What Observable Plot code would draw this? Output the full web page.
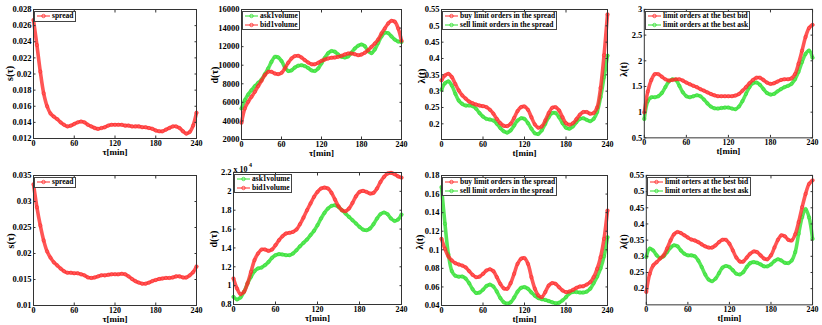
<!DOCTYPE html>
<html><head><meta charset="utf-8">
<script src="https://cdn.jsdelivr.net/npm/d3@7"></script>
<script src="https://cdn.jsdelivr.net/npm/@observablehq/plot@0.6"></script>
<style>
body{margin:0;background:#fff;}
#wrap{position:relative;width:822px;height:325px;overflow:hidden;background:#fff;}
.pnl{position:absolute;}
.legend{position:absolute;background:#fff;border:1px solid #444;font:bold 7.5px "Liberation Serif",serif;color:#000;padding:0 1px 0 1px;box-sizing:border-box;white-space:nowrap;}
.legend .row{height:8.5px;line-height:8.5px;display:flex;align-items:center;}
.legend svg{display:block;margin-right:1px;}
</style></head>
<body><div id="wrap"></div>
<script>
// ---------------- data ----------------
const times = [0,5,10,15,20,25,30,35,40,45,50,55,60,65,70,75,80,85,90,95,100,105,110,115,120,125,130,135,140,145,150,155,160,165,170,175,180,185,190,195,200,205,210,215,220,225,230,235,240];
const xTicks = [0,60,120,180,240];

// top row
const spreadTop = [0.0267,0.0236,0.0203,0.0176,0.0160,0.0151,0.0147,0.0144,0.0140,0.0137,0.0135,0.0136,0.0138,0.0140,0.0141,0.0140,0.0137,0.0135,0.0133,0.0132,0.0133,0.0134,0.0136,0.0137,0.0137,0.0137,0.0137,0.0136,0.0136,0.0135,0.0135,0.0135,0.0134,0.0134,0.0133,0.0132,0.0130,0.0129,0.0129,0.0131,0.0133,0.0135,0.0135,0.0133,0.0129,0.0126,0.0128,0.0136,0.0152];
const ask1Top = [5340,6240,6850,7310,7745,8100,8460,9040,9650,10370,10900,10850,10450,9800,9380,9450,9750,9950,10000,9900,9700,9450,9380,9650,10200,10800,11300,11520,11450,11150,10900,10830,10950,11350,11800,12100,12230,12050,11500,11300,11700,12400,13100,13500,13450,13100,12750,12550,12500];
const bid1Top = [3800,5340,6060,6600,7130,7745,8320,8930,9290,9290,9110,9040,9180,9650,10260,10730,10980,11010,10830,10550,10290,10110,10110,10260,10470,10620,10730,10800,10830,10900,11010,11160,11260,11260,11190,11080,11160,11340,11620,11980,12340,12770,13420,13960,14500,14780,14680,13960,12630];
const buySpreadTop = [0.333,0.348,0.353,0.343,0.322,0.302,0.287,0.277,0.268,0.263,0.259,0.256,0.254,0.251,0.243,0.231,0.215,0.202,0.194,0.193,0.200,0.218,0.239,0.251,0.253,0.243,0.220,0.198,0.188,0.192,0.210,0.233,0.249,0.251,0.241,0.220,0.202,0.197,0.202,0.214,0.228,0.236,0.236,0.231,0.233,0.250,0.310,0.410,0.535];
const sellSpreadTop = [0.304,0.324,0.330,0.317,0.292,0.271,0.261,0.256,0.256,0.254,0.246,0.233,0.222,0.215,0.213,0.210,0.200,0.187,0.177,0.173,0.180,0.195,0.210,0.217,0.215,0.202,0.185,0.171,0.169,0.180,0.200,0.220,0.233,0.233,0.220,0.202,0.188,0.185,0.192,0.205,0.215,0.217,0.212,0.208,0.215,0.236,0.282,0.343,0.409];
const bestBidTop = [0.994,1.405,1.627,1.740,1.740,1.690,1.640,1.614,1.627,1.640,1.640,1.614,1.576,1.544,1.513,1.487,1.449,1.418,1.386,1.354,1.329,1.310,1.310,1.310,1.310,1.310,1.323,1.354,1.418,1.487,1.563,1.627,1.671,1.671,1.627,1.576,1.551,1.563,1.595,1.627,1.640,1.640,1.658,1.740,1.943,2.196,2.462,2.639,2.700];
const bestAskTop = [0.867,1.215,1.290,1.290,1.310,1.373,1.487,1.595,1.640,1.627,1.513,1.386,1.310,1.290,1.310,1.329,1.310,1.247,1.171,1.108,1.076,1.070,1.082,1.089,1.089,1.070,1.057,1.108,1.215,1.354,1.487,1.563,1.576,1.532,1.449,1.373,1.342,1.354,1.405,1.449,1.487,1.513,1.551,1.640,1.785,1.975,2.133,2.200,2.060];

// bottom row
const spreadBot = [0.0333,0.0289,0.0254,0.0225,0.0204,0.0192,0.0183,0.0177,0.0171,0.0166,0.0163,0.0163,0.0162,0.0162,0.0160,0.0158,0.0154,0.0153,0.0154,0.0156,0.0158,0.0158,0.0159,0.0160,0.0160,0.0160,0.0161,0.0160,0.0156,0.0151,0.0147,0.0144,0.0142,0.0142,0.0144,0.0147,0.0149,0.0151,0.0152,0.0153,0.0153,0.0154,0.0156,0.0156,0.0154,0.0154,0.0158,0.0164,0.0175];
const ask1Bot = [8810,8530,8740,9340,10230,10930,11530,11820,11920,12170,12520,12950,13230,13340,13300,13230,13230,13410,13760,14180,14540,14890,15350,15810,16410,17120,17720,18180,18460,18530,18350,18000,17650,17290,16940,16590,16230,15950,15880,16060,16520,17120,17580,17750,17580,17120,16870,17010,17540];
const bid1Bot = [10760,9700,9100,9340,10230,11460,12700,13410,13830,13830,13690,13830,14290,14820,15240,15530,15600,15700,15950,16520,17220,18000,18710,19410,19940,20300,20400,20300,19840,19130,18420,18000,17890,18180,18780,19480,19940,20050,19940,19770,19840,20300,21000,21530,21890,21960,21820,21600,21460];
const buySpreadBot = [0.1118,0.1010,0.0928,0.0885,0.0856,0.0842,0.0830,0.0810,0.0770,0.0730,0.0705,0.0712,0.0741,0.0777,0.0791,0.0770,0.0705,0.0633,0.0585,0.0580,0.0641,0.0741,0.0849,0.0903,0.0910,0.0849,0.0705,0.0580,0.0508,0.0490,0.0544,0.0615,0.0641,0.0633,0.0597,0.0562,0.0544,0.0551,0.0569,0.0590,0.0605,0.0608,0.0626,0.0651,0.0705,0.0795,0.0921,0.1118,0.1423];
const sellSpreadBot = [0.1675,0.1280,0.0950,0.0770,0.0720,0.0710,0.0712,0.0690,0.0640,0.0575,0.0535,0.0540,0.0570,0.0610,0.0625,0.0605,0.0550,0.0480,0.0435,0.0420,0.0435,0.0485,0.0550,0.0590,0.0598,0.0580,0.0540,0.0505,0.0480,0.0468,0.0460,0.0448,0.0435,0.0425,0.0430,0.0455,0.0490,0.0530,0.0545,0.0545,0.0540,0.0540,0.0550,0.0580,0.0640,0.0710,0.0800,0.0930,0.1136];
const bestBidBot = [0.190,0.246,0.272,0.282,0.293,0.303,0.324,0.349,0.368,0.375,0.372,0.365,0.358,0.352,0.349,0.344,0.337,0.331,0.327,0.327,0.334,0.344,0.351,0.351,0.339,0.318,0.296,0.284,0.284,0.296,0.308,0.315,0.313,0.303,0.293,0.291,0.303,0.327,0.351,0.365,0.362,0.351,0.349,0.368,0.406,0.452,0.493,0.524,0.535];
const bestAskBot = [0.298,0.324,0.318,0.303,0.295,0.300,0.313,0.327,0.334,0.331,0.318,0.308,0.303,0.303,0.300,0.287,0.267,0.244,0.228,0.223,0.231,0.248,0.265,0.270,0.267,0.257,0.246,0.244,0.251,0.267,0.279,0.282,0.280,0.275,0.269,0.269,0.275,0.285,0.291,0.287,0.280,0.279,0.287,0.313,0.370,0.421,0.446,0.420,0.354];

// tick values
const yTicks1 = [0.012,0.014,0.016,0.018,0.02,0.022,0.024,0.026,0.028];
const yTicks2 = [2000,4000,6000,8000,10000,12000,14000,16000];
const yTicks3 = [0.2,0.25,0.3,0.35,0.4,0.45,0.5,0.55];
const yTicks4 = [0.5,1,1.5,2,2.5,3];
const yTicks5 = [0.01,0.015,0.02,0.025,0.03,0.035];
const yTicks6 = [8000,10000,12000,14000,16000,18000,20000,22000];
const yTicks7 = [0.04,0.06,0.08,0.1,0.12,0.14,0.16,0.18];
const yTicks8 = [0.2,0.25,0.3,0.35,0.4,0.45,0.5,0.55];

// legend names
const nSpread = "spread";
const nAsk1 = "ask1volume", nBid1 = "bid1volume";
const nBuy = "buy limit orders in the spread", nSell = "sell limit orders in the spread";
const nBidTop = "limit orders at the best bid", nAskTop = "limit orders at the best ask";
const nBidBot = "limit orters at the best bid", nAskBot = "limit orters at the best ask";

// ---------------- drawing ----------------
const RED = "#ff2a2a", GREEN = "#2ee02e";
const num = d => String(+d.toFixed(6));
const wrap = document.getElementById("wrap");

const panels = [
  {L:33,R:196,T:9,B:138, y:[0.012,0.028], ticks:yTicks1, fmt:num, series:[{name:nSpread,v:spreadTop,c:RED}], draw:[0],
   xl:[["τ",0],["[min]",0]], yl:[["s",1],["(τ)",0]], ylDx:-24, ylDy:7, xlDy:16.5},
  {L:241,R:401,T:9,B:139, y:[2000,16000], ticks:yTicks2, fmt:num, series:[{name:nAsk1,v:ask1Top,c:GREEN},{name:nBid1,v:bid1Top,c:RED}], draw:[0,1],
   xl:[["τ",0],["[min]",0]], yl:[["d",1],["(τ)",0]], ylDx:-27, ylDy:9, xlDy:16.5},
  {L:441,R:607,T:9,B:139, y:[0.152,0.55], ticks:yTicks3, fmt:num, series:[{name:nBuy,v:buySpreadTop,c:RED},{name:nSell,v:sellSpreadTop,c:GREEN}], draw:[1,0],
   xl:[["t",1],["[min]",0]], yl:[["λ(",0],["t",1],[")",0]], ylDx:-20, ylDy:9, xlDy:16.5},
  {L:644,R:813,T:9,B:138, y:[0.5,3], ticks:yTicks4, fmt:num, series:[{name:nBidTop,v:bestBidTop,c:RED},{name:nAskTop,v:bestAskTop,c:GREEN}], draw:[1,0],
   xl:[["t",1],["[min]",0]], yl:[["λ(",0],["t",1],[")",0]], ylDx:-21, ylDy:3, xlDy:16.5},
  {L:33,R:196,T:175,B:305, y:[0.01,0.035], ticks:yTicks5, fmt:num, series:[{name:nSpread,v:spreadBot,c:RED}], draw:[0],
   xl:[["τ",0],["[min]",0]], yl:[["s",1],["(τ)",0]], ylDx:-23, ylDy:8, xlDy:16},
  {L:233,R:401,T:172,B:304, y:[8000,22000], ticks:yTicks6, fmt:d => num(d/1e4), series:[{name:nAsk1,v:ask1Bot,c:GREEN},{name:nBid1,v:bid1Bot,c:RED}], draw:[0,1],
   xl:[["τ",0],["[min]",0]], yl:[["d",1],["(τ)",0]], ylDx:-20, ylDy:9, exp:true, xlDy:16.5},
  {L:441,R:607,T:175,B:305, y:[0.04,0.18], ticks:yTicks7, fmt:num, series:[{name:nBuy,v:buySpreadBot,c:RED},{name:nSell,v:sellSpreadBot,c:GREEN}], draw:[1,0],
   xl:[["t",1],["[min]",0]], yl:[["λ(",0],["t",1],[")",0]], ylDx:-22, ylDy:9, xlDy:16},
  {L:646,R:813,T:175,B:305, y:[0.15,0.55], ticks:yTicks8, fmt:num, series:[{name:nBidBot,v:bestBidBot,c:RED},{name:nAskBot,v:bestAskBot,c:GREEN}], draw:[1,0],
   xl:[["t",1],["[min]",0]], yl:[["λ(",0],["t",1],[")",0]], ylDx:-23, ylDy:9, xlDy:16}
];

const mL = 44, mR = 10, mT = 14, mB = 28;

function italicize(svg, label, parts) {
  const t = d3.select(svg).select(`g[aria-label="${label}"] text`);
  t.text(null);
  parts.forEach(([s, it]) => t.append("tspan").attr("font-style", it ? "italic" : null).text(s));
}

panels.forEach((p, idx) => {
  const W = p.R - p.L, H = p.B - p.T;
  const seriesMarks = [];
  p.draw.forEach(i => {
    const s = p.series[i];
    const rows = times.map((t, j) => ({t, v: s.v[j]}));
    seriesMarks.push(Plot.line(rows, {x: "t", y: "v", stroke: s.c, strokeWidth: 3.6, strokeOpacity: 0.8, curve: "catmull-rom"}));
    seriesMarks.push(Plot.dot(rows, {x: "t", y: "v", r: 1.7, stroke: s.c, strokeWidth: 0.8, strokeOpacity: 0.7, fill: "none"}));
  });
  const marks = [
    ...seriesMarks,
    Plot.frame({stroke: "#333", strokeWidth: 1}),
    Plot.axisX(xTicks, {anchor: "bottom", tickSize: 0, tickPadding: 1.5, label: null, fontWeight: "bold", fontSize: 8}),
    Plot.axisX(xTicks, {anchor: "bottom", tickSize: -2.5, fill: "none", label: null, stroke: "#333"}),
    Plot.axisX(xTicks, {anchor: "top", tickSize: -2.5, fill: "none", label: null, stroke: "#333"}),
    Plot.axisY(p.ticks, {anchor: "left", tickSize: 0, tickPadding: 2, tickFormat: p.fmt, label: null, fontWeight: "bold"}),
    Plot.axisY(p.ticks, {anchor: "left", tickSize: -2.5, fill: "none", label: null, stroke: "#333"}),
    Plot.axisY(p.ticks, {anchor: "right", tickSize: -2.5, fill: "none", label: null, stroke: "#333"}),
    Plot.text([p.xl.map(d => d[0]).join("")], {frameAnchor: "bottom", dy: p.xlDy, fontSize: 9, fontWeight: "bold", ariaLabel: "xlab"}),
    Plot.text([p.yl.map(d => d[0]).join("")], {frameAnchor: "left", rotate: -90, dx: p.ylDx, dy: p.ylDy, fontSize: 10, fontWeight: "bold", ariaLabel: "ylab"})
  ];
  if (p.exp) {
    marks.push(Plot.text(["x 10"], {frameAnchor: "top-left", textAnchor: "start", dx: 0, dy: -6, fontSize: 8, fontWeight: "bold"}));
    marks.push(Plot.text(["4"], {frameAnchor: "top-left", textAnchor: "start", dx: 15.5, dy: -10, fontSize: 6, fontWeight: "bold"}));
  }
  const svg = Plot.plot({
    width: W + mL + mR, height: H + mT + mB,
    marginLeft: mL, marginRight: mR, marginTop: mT, marginBottom: mB,
    x: {domain: [0, 240]},
    y: {domain: p.y},
    style: {fontFamily: "'Liberation Serif', serif", fontSize: "8.5px", fontWeight: "bold", color: "#000", background: "transparent", overflow: "visible"},
    marks
  });
  italicize(svg, "xlab", p.xl);
  italicize(svg, "ylab", p.yl);
  const holder = document.createElement("div");
  holder.className = "pnl";
  holder.style.left = (p.L - mL) + "px";
  holder.style.top = (p.T - mT) + "px";
  holder.appendChild(svg);
  wrap.appendChild(holder);

  // legend
  const lg = document.createElement("div");
  lg.className = "legend";
  lg.style.left = (p.L + 1) + "px";
  lg.style.top = (p.T + 2) + "px";
  p.series.forEach(s => {
    const row = document.createElement("div");
    row.className = "row";
    row.innerHTML = `<svg width="15" height="8"><line x1="1" x2="14" y1="4" y2="4" stroke="${s.c}" stroke-width="1"/><circle cx="7.5" cy="4" r="1.7" fill="none" stroke="${s.c}" stroke-width="0.8"/></svg><span>${s.name}</span>`;
    lg.appendChild(row);
  });
  wrap.appendChild(lg);
});
</script>
</body></html>
